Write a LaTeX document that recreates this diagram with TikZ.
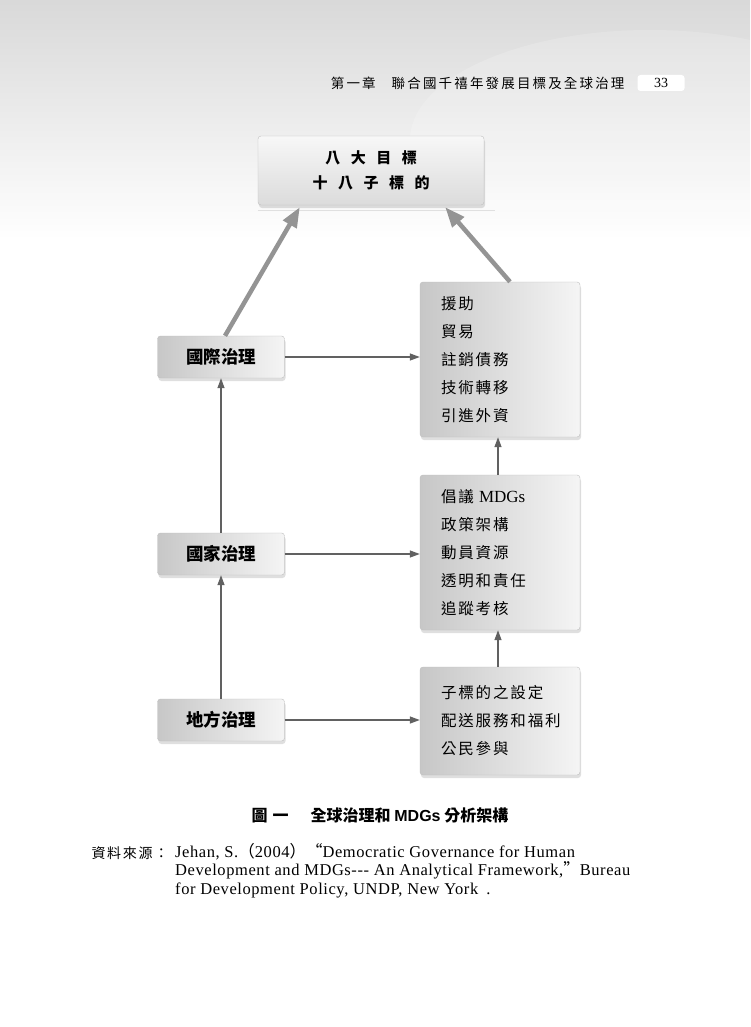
\documentclass[tikz,border=0pt]{standalone}
\usepackage{fontspec}
\setmainfont{Liberation Serif}
\setsansfont{Liberation Sans}
\newfontfamily\cjk{Noto Sans CJK TC}
\newfontfamily\cjklist[LetterSpace=12]{Noto Sans CJK TC}
\newfontfamily\cjkgoal[LetterSpace=70]{Noto Sans CJK TC}
\newfontfamily\cjkhead[LetterSpace=16]{Noto Sans CJK TC}
\newfontfamily\cjksrc[LetterSpace=12]{Noto Sans CJK TC}
\newfontfamily\refserif[LetterSpace=3.5]{Liberation Serif}
\usepackage{tikz}
\usetikzlibrary{arrows.meta,shadows,positioning}

\begin{document}
\begin{tikzpicture}[x=1pt,y=-1pt]

	\tikzstyle{gov}=[rectangle,rounded corners=3pt,draw=black!25,left color=black!22,right color=black!4,
		drop shadow={shadow xshift=1pt,shadow yshift=-3pt,opacity=0.25},
		minimum width=127pt,minimum height=42pt,font=\cjk\bfseries\fontsize{17.5}{20}\selectfont]
	\tikzstyle{item}=[rectangle,rounded corners=3pt,draw=black!25,left color=black!22,right color=black!4,
		drop shadow={shadow xshift=1pt,shadow yshift=-3pt,opacity=0.25},
		minimum width=160pt,text width=118pt,inner xsep=21pt,align=left,
		font=\cjklist\fontsize{15.5}{28}\selectfont]
	\tikzstyle{thin}=[draw=black!62,line width=1.3pt,-{Triangle[length=10pt,width=7pt]}]
	\tikzstyle{thick}=[draw=black!42,line width=4.5pt,-{Triangle[length=20pt,width=15pt]}]

	% page
	\useasboundingbox (0,0) rectangle (750,1027);
	\fill[white] (0,0) rectangle (750,1027);
	\shade[top color=black!15,bottom color=white] (0,0) rectangle (750,240);
	\fill[white,opacity=0.18] (650,140) ellipse (240 and 110);

	% running head
	\node[anchor=east,font=\cjkhead\fontsize{13.5}{15}\selectfont] (head) at (628,83) {第一章\hspace{16pt}聯合國千禧年發展目標及全球治理};
	\node[fill=white,rounded corners=3pt,minimum width=47pt,minimum height=16pt,inner sep=0pt,
		font=\rmfamily\fontsize{14}{16}\selectfont] (page) at (661,83) {33};

	% goals
	\node[rectangle,rounded corners=3pt,draw=black!25,top color=black!3,bottom color=black!14,
		drop shadow={shadow xshift=1pt,shadow yshift=-3pt,opacity=0.25},
		minimum width=226pt,minimum height=69pt,align=center,
		font=\cjkgoal\bfseries\fontsize{15}{25}\selectfont] (goals) at (371,170.5) {八大目標\\十八子標的};
	\draw[black!12] ([yshift=-5pt]goals.south west) -- ([xshift=11pt,yshift=-5pt]goals.south east);

	% governance levels
	\node[gov] (intl) at (221,357) {國際治理};
	\node[gov] (natl) at (221,554) {國家治理};
	\node[gov] (local) at (221,720) {地方治理};

	% measures
	\node[item,minimum height=155pt] (aid) at (500,359.5) {援助\\貿易\\註銷債務\\技術轉移\\引進外資};
	\node[item,minimum height=155pt] (policy) at (500,552.5) {倡議 {\rmfamily\fontsize{17}{28}\selectfont MDGs}\\政策架構\\動員資源\\透明和責任\\追蹤考核};
	\node[item,minimum height=108pt] (serve) at (500,721) {子標的之設定\\配送服務和福利\\公民參與};

	% connectors
	\draw[thick] ([xshift=4pt]intl.north) -- ([xshift=42pt,yshift=-2pt]goals.south west);
	\draw[thick] ([xshift=10pt]aid.north) -- ([xshift=-39pt,yshift=-2pt]goals.south east);
	\draw[thin] (intl.east) -- (intl.east -| aid.west);
	\draw[thin] (natl.east) -- (natl.east -| policy.west);
	\draw[thin] (local.east) -- (local.east -| serve.west);
	\draw[thin] (local.north) -- (natl.south);
	\draw[thin] (natl.north) -- (intl.south);
	\draw[thin] ([xshift=-2pt]serve.north) -- ([xshift=-2pt]policy.south);
	\draw[thin] ([xshift=-2pt]policy.north) -- ([xshift=-2pt]aid.south);

	% caption and source
	\node[font=\cjk\bfseries\fontsize{16}{18}\selectfont] (cap) at (380,815) {圖\hspace{5pt}一\hspace{22pt}全球治理和 {\sffamily\bfseries MDGs} 分析架構};
	\node[anchor=west,font=\cjksrc\fontsize{14}{16}\selectfont] (src) at (88,853) {資料來源：};
	\node[anchor=north west,align=left,inner sep=0pt,font=\refserif\fontsize{16.5}{18.6}\selectfont] (ref) at (175,843)
		{Jehan, S.{\cjk（}2004{\cjk）}{\cjk“}Democratic Governance for Human\\
		Development and MDGs-{}-{}- An Analytical Framework,{\cjk”}Bureau\\
		for Development Policy, UNDP, New York\hspace{8pt}.};

\end{tikzpicture}
\end{document}
